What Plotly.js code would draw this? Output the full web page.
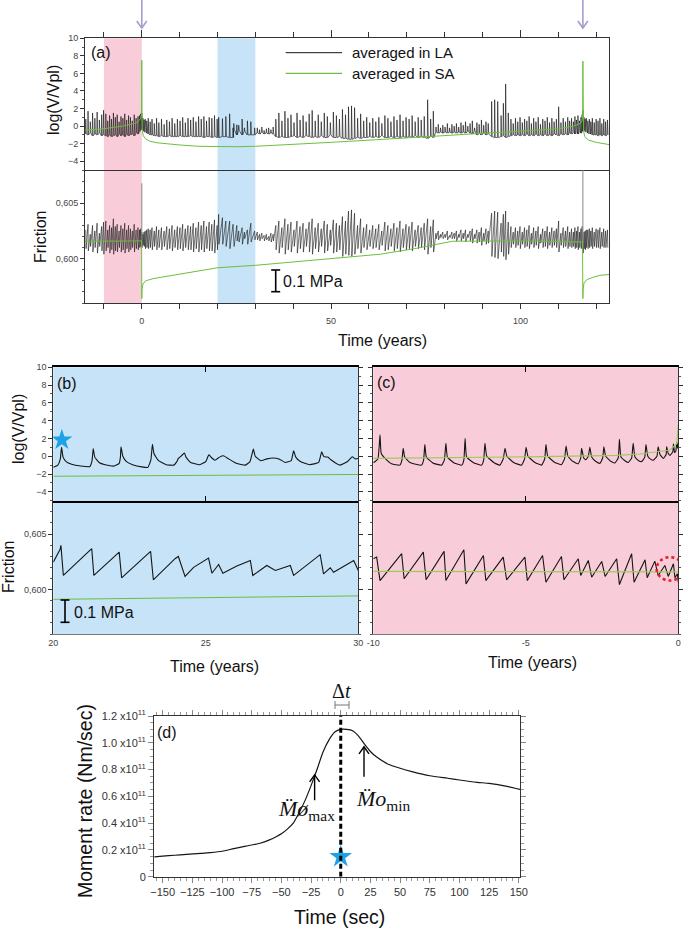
<!DOCTYPE html>
<html><head><meta charset="utf-8">
<script src="https://cdn.plot.ly/plotly-3.0.1.min.js"></script>
<style>body{margin:0;background:#fff}#chart{width:685px;height:928px}</style>
</head><body><div id="chart"></div>
<script>
// ---------------- DATA ----------------
const eventT = [0, 116.5];
// (a) averaged in LA : spike times, log(V/Vpl) peaks & troughs, friction before/after drop
const laT = [
 -14.8,-14.2,-13.6,-13.0,-12.4,-11.8,-11.2,-10.6,-10.1,
 -9.5,-9.0,-8.5,-8.0,-7.5,-7.0,-6.5,-6.0,-5.5,-5.0,-4.5,-4.0,-3.5,-3.0,-2.5,-2.0,-1.5,-1.0,-0.6,-0.3,
 0.0,0.3,0.6,0.9,1.3,1.7,2.2,2.7,3.3,3.9,4.5,5.2,5.9,6.6,7.3,8.0,8.7,9.4,10.1,10.8,11.5,12.2,12.9,13.6,14.3,15.0,15.7,16.4,17.1,17.8,18.5,19.2,19.9,
 20.3,21.3,22.2,23.2,24.1,24.3,25.1,25.6,26.5,27.1,27.9,28.8,29.8,
 30.5,31.1,31.7,32.3,32.9,33.5,34.1,34.7,
 35.4,36.2,37.0,37.8,38.6,39.4,40.2,41.0,41.8,42.6,43.4,44.2,45.0,45.8,46.6,47.4,48.2,49.0,49.8,50.6,51.4,52.2,53.0,53.8,
 54.6,55.4,56.2,57.0,57.8,58.6,59.4,60.2,61.0,61.8,62.6,63.4,64.2,65.0,65.8,66.6,67.4,68.2,69.0,69.8,70.6,71.4,72.2,73.0,73.8,74.6,75.5,76.3,77.0,
 77.7,78.3,78.9,79.5,80.1,80.7,81.3,81.9,82.5,83.1,83.7,84.3,84.9,85.5,86.1,86.7,87.3,87.9,88.5,89.1,89.7,90.3,90.9,91.5,
 92.4,93.2,94.0,94.9,95.5,96.1,96.8,
 97.5,98.1,98.7,99.3,99.9,100.5,101.1,101.7,102.3,102.9,103.5,104.1,104.7,105.3,105.9,106.5,107.1,107.7,108.3,108.9,109.5,110.1,110.7,111.3,111.9,112.5,113.0,113.5,114.0,114.4,114.8,115.2,115.6,116.0,116.3,
 116.5,116.8,117.1,117.4,117.8,118.2,118.6,119.0,119.5,120.0,120.5,121.0,121.5,122.0,122.5,123.0
];
const laPk = [
 0.8,1.7,0.5,1.5,0.9,1.6,0.7,1.3,1.8,
 1.4,0.6,1.2,0.8,1.5,1.0,1.3,0.5,1.1,0.9,1.4,0.7,1.2,1.0,0.6,1.3,0.9,1.1,1.2,1.4,
 1.5,0.9,0.7,0.8,0.6,0.9,0.5,0.8,0.3,0.9,0.4,0.8,0.2,0.7,0.5,0.9,0.3,0.8,0.6,1.0,0.4,0.9,0.7,1.0,0.5,1.1,0.8,1.1,0.6,1.0,0.9,1.2,0.8,
 1.0,0.85,1.1,1.4,-0.2,0.3,0.15,0.1,0.8,-0.2,0.6,0.5,-0.2,
 -0.2,-0.4,-0.1,-0.5,-0.3,-0.2,-0.4,-0.1,
 0.8,1.5,0.6,1.7,0.9,1.3,0.4,1.5,0.7,1.2,0.5,1.4,1.8,0.6,1.3,0.5,1.5,1.1,0.4,1.6,1.2,0.8,1.9,1.3,
 2.2,2.3,2.1,0.9,1.4,0.6,1.0,0.4,0.9,0.5,1.0,0.3,1.2,0.9,0.5,1.1,0.7,1.3,0.6,1.0,0.8,1.2,0.5,1.0,0.7,1.1,3.0,0.8,1.7,
 -0.1,0.2,-0.2,0.1,-0.1,0.3,-0.2,0.2,0.0,0.3,-0.1,0.4,0.1,0.5,0.0,0.3,0.6,-0.2,0.4,0.2,0.7,0.1,0.5,0.3,
 2.8,3.0,2.8,1.2,2.6,4.8,1.5,
 0.8,0.3,0.9,0.5,1.0,0.4,0.8,0.6,1.1,0.3,0.9,0.5,1.0,0.2,0.8,0.6,1.0,0.4,0.9,0.5,0.8,2.2,0.4,0.9,0.5,1.0,0.6,0.9,0.5,1.1,0.7,1.2,0.6,1.0,1.3,
 1.8,1.0,0.8,0.9,0.6,0.8,0.5,0.9,0.4,0.8,0.6,0.9,0.3,0.8,0.5,0.7
];
const laLo = [
 -0.9,-1.0,-0.8,-1.1,-0.9,-1.0,-0.8,-1.1,-1.0,
 -1.1,-1.2,-1.0,-1.2,-1.1,-1.0,-1.2,-0.9,-1.1,-1.0,-1.2,-0.9,-1.1,-1.0,-0.9,-1.1,-0.8,-0.9,-0.6,-0.4,
 -0.3,-0.5,-0.6,-0.7,-0.8,-0.9,-1.0,-1.0,-1.1,-1.1,-1.2,-1.1,-1.2,-1.2,-1.1,-1.2,-1.2,-1.2,-1.1,-1.2,-1.2,-1.2,-1.1,-1.2,-1.2,-1.2,-1.2,-1.3,-1.2,-1.2,-1.3,-1.2,-1.3,
 -1.3,-1.2,-1.2,-1.3,-1.3,-0.4,-1.0,-0.5,-1.0,-0.6,-1.0,-1.0,-1.0,
 -0.8,-0.9,-0.7,-0.9,-0.8,-0.9,-0.8,-0.9,
 -1.2,-1.3,-1.2,-1.3,-1.3,-1.2,-1.1,-1.3,-1.2,-1.3,-1.1,-1.2,-1.3,-1.2,-1.3,-1.1,-1.3,-1.3,-1.0,-1.3,-1.3,-1.2,-1.4,-1.4,
 -1.5,-1.5,-1.4,-1.3,-1.4,-1.3,-1.3,-1.2,-1.3,-1.2,-1.3,-1.1,-1.3,-1.3,-1.2,-1.3,-1.2,-1.3,-1.2,-1.3,-1.2,-1.3,-1.1,-1.3,-1.2,-1.3,-1.4,-1.2,-1.3,
 -0.7,-0.8,-0.7,-0.8,-0.7,-0.8,-0.7,-0.8,-0.7,-0.8,-0.7,-0.8,-0.7,-0.8,-0.6,-0.8,-0.9,-0.6,-1.0,-0.9,-1.0,-0.8,-1.0,-0.9,
 -1.2,-1.3,-1.3,-1.2,-1.1,-1.3,-1.2,
 -1.1,-1.0,-1.1,-1.0,-1.1,-1.0,-1.1,-0.9,-1.1,-1.0,-1.1,-0.9,-1.1,-1.0,-1.1,-0.9,-1.1,-1.0,-1.1,-0.9,-1.0,-1.1,-0.9,-1.0,-0.9,-1.0,-0.8,-0.9,-0.8,-0.9,-0.8,-0.9,-0.7,-0.8,-0.6,
 -0.5,-0.4,-0.6,-0.7,-0.8,-0.9,-0.9,-1.0,-1.0,-1.0,-1.1,-1.0,-1.1,-1.0,-1.1,-1.0
];
const laFh = [
 0.6026,0.6031,0.6022,0.6030,0.6025,0.6032,0.6023,0.6029,0.6033,
 0.6034,0.6026,0.6030,0.6028,0.6036,0.6029,0.6031,0.6025,0.6030,0.6027,0.6032,0.6026,0.6030,0.6027,0.6025,0.6031,0.6026,0.6028,0.6026,0.6027,
 0.6024,0.6022,0.6024,0.6025,0.6026,0.6027,0.6026,0.6028,0.6025,0.6029,0.6026,0.6028,0.6025,0.6029,0.6027,0.6030,0.6026,0.6029,0.6028,0.6031,0.6027,0.6030,0.6029,0.6032,0.6028,0.6033,0.6030,0.6034,0.6029,0.6033,0.6031,0.6035,0.6030,
 0.6040,0.6037,0.6034,0.6034,0.6031,0.6030,0.6030,0.6025,0.6028,0.6024,0.6026,0.6032,0.6025,
 0.6024,0.6022,0.6023,0.6021,0.6022,0.6020,0.6023,0.6022,
 0.6030,0.6034,0.6028,0.6036,0.6031,0.6033,0.6026,0.6034,0.6029,0.6032,0.6027,0.6033,0.6036,0.6028,0.6032,0.6027,0.6034,0.6031,0.6026,0.6035,0.6032,0.6030,0.6038,0.6034,
 0.6043,0.6044,0.6041,0.6030,0.6036,0.6028,0.6031,0.6026,0.6030,0.6027,0.6031,0.6025,0.6033,0.6030,0.6027,0.6032,0.6028,0.6034,0.6027,0.6031,0.6029,0.6033,0.6026,0.6030,0.6028,0.6032,0.6036,0.6029,0.6035,
 0.6023,0.6025,0.6022,0.6024,0.6022,0.6025,0.6021,0.6024,0.6023,0.6025,0.6022,0.6026,0.6023,0.6026,0.6022,0.6025,0.6027,0.6022,0.6026,0.6024,0.6028,0.6023,0.6027,0.6025,
 0.6041,0.6043,0.6042,0.6032,0.6040,0.6043,0.6033,
 0.6029,0.6024,0.6028,0.6025,0.6029,0.6024,0.6028,0.6026,0.6030,0.6023,0.6028,0.6025,0.6029,0.6022,0.6027,0.6025,0.6029,0.6024,0.6028,0.6025,0.6027,0.6034,0.6023,0.6028,0.6025,0.6029,0.6024,0.6027,0.6024,0.6028,0.6025,0.6029,0.6024,0.6027,0.6029,
 0.6026,0.6024,0.6025,0.6026,0.6026,0.6027,0.6025,0.6028,0.6024,0.6027,0.6026,0.6028,0.6024,0.6027,0.6025,0.6026
];
const laFl = [
 0.6009,0.6007,0.6011,0.6006,0.6010,0.6005,0.6011,0.6007,0.6004,
 0.6007,0.6010,0.6005,0.6008,0.6004,0.6007,0.6006,0.6010,0.6006,0.6008,0.6005,0.6009,0.6006,0.6008,0.6010,0.6006,0.6009,0.6008,0.6010,0.6011,
 0.6010,0.6012,0.6011,0.6009,0.6010,0.6009,0.6010,0.6008,0.6011,0.6008,0.6010,0.6008,0.6011,0.6008,0.6009,0.6007,0.6010,0.6008,0.6009,0.6007,0.6010,0.6008,0.6008,0.6006,0.6009,0.6006,0.6008,0.6006,0.6009,0.6007,0.6007,0.6005,0.6008,
 0.6013,0.6013,0.6011,0.6009,0.6012,0.6011,0.6016,0.6015,0.6013,0.6018,0.6013,0.6015,0.6017,
 0.6017,0.6016,0.6018,0.6016,0.6017,0.6016,0.6015,0.6016,
 0.6008,0.6005,0.6010,0.6004,0.6008,0.6006,0.6011,0.6005,0.6009,0.6006,0.6011,0.6006,0.6004,0.6009,0.6006,0.6011,0.6005,0.6007,0.6012,0.6005,0.6006,0.6008,0.6002,0.6004,
 0.6003,0.6002,0.6004,0.6009,0.6005,0.6010,0.6008,0.6011,0.6009,0.6010,0.6008,0.6012,0.6007,0.6008,0.6011,0.6007,0.6009,0.6006,0.6010,0.6008,0.6009,0.6007,0.6011,0.6009,0.6010,0.6008,0.6004,0.6010,0.6006,
 0.6018,0.6017,0.6019,0.6018,0.6019,0.6017,0.6019,0.6018,0.6018,0.6016,0.6019,0.6016,0.6018,0.6015,0.6019,0.6016,0.6014,0.6018,0.6014,0.6015,0.6012,0.6016,0.6013,0.6014,
 0.6002,0.6001,0.6000,0.6006,0.6002,0.5999,0.6004,
 0.6010,0.6013,0.6010,0.6012,0.6009,0.6013,0.6010,0.6011,0.6009,0.6013,0.6010,0.6012,0.6009,0.6014,0.6010,0.6011,0.6009,0.6012,0.6010,0.6012,0.6010,0.6006,0.6012,0.6010,0.6011,0.6009,0.6011,0.6010,0.6011,0.6009,0.6010,0.6008,0.6010,0.6009,0.6008,
 0.6005,0.6009,0.6008,0.6010,0.6009,0.6010,0.6011,0.6009,0.6011,0.6010,0.6010,0.6009,0.6011,0.6010,0.6010,0.6010
];
// friction spikes at the two big events (LA)
const laSpikeTop = [0.6068, 0.6095];
const laSpikeBase = [0.6012, 0.6010];
// (a) averaged in SA
const saT = [-15,-10,-5,-2,-1,-0.3,-0.05,0,0.05,0.15,0.4,1,2,4,7,10,15,20,25,30,40,50,60,70,80,90,100,110,114,115.8,116.3,116.45,116.5,116.55,116.65,117,118,120,123.4];
const saV = [-0.45,-0.3,0.0,0.3,0.5,0.9,1.4,7.5,1.0,-0.6,-1.1,-1.45,-1.7,-1.9,-2.05,-2.15,-2.3,-2.35,-2.35,-2.3,-2.1,-1.85,-1.6,-1.35,-1.1,-0.85,-0.6,-0.3,0.0,0.3,0.6,1.3,7.4,1.0,-0.5,-1.2,-1.6,-1.85,-2.1];
const sfT = [-15,-5,-1,-0.05,0,0.05,0.3,1,3,8,13,20,30,40,55,63,72,82,100,116.4,116.5,116.55,116.8,117.5,119,121,123.4];
const sfV = [0.60157,0.60157,0.6016,0.6016,0.5964,0.5972,0.5977,0.5980,0.5982,0.5985,0.5988,0.59918,0.5994,0.5997,0.60015,0.6004,0.6009,0.60157,0.6016,0.6015,0.5964,0.5972,0.5978,0.5981,0.5983,0.5985,0.59857];

// (b) 20-30 years
const bT = [20.0,20.15,20.23,20.27,20.32,20.42,20.6,20.9,21.2,21.27,21.31,21.36,21.5,21.7,22.0,22.16,22.2,22.22,22.28,22.4,22.6,22.9,23.1,23.2,23.25,23.3,23.45,23.7,23.95,24.05,24.1,24.2,24.3,24.35,24.5,24.8,25.0,25.1,25.2,25.3,25.45,25.58,25.75,26.0,26.3,26.45,26.56,26.62,26.8,27.0,27.2,27.4,27.6,27.8,27.88,27.95,28.1,28.4,28.7,28.8,28.87,29.0,29.1,29.4,29.65,29.8,29.9,30.0];
const bV = [-1.25,-1.0,-0.3,1.0,-0.1,-0.6,-0.9,-1.1,-1.15,-0.5,0.85,-0.1,-0.7,-0.95,-1.1,-0.8,-0.1,1.05,0.0,-0.6,-0.95,-1.2,-1.25,-0.4,1.35,0.3,-0.5,-0.95,-1.0,-0.6,-0.25,0.05,0.35,-0.1,-0.7,-0.95,-0.6,0.15,-0.2,-0.45,-0.1,0.05,-0.3,-0.8,-1.0,-0.6,0.8,0.0,-0.5,-0.3,-0.2,-0.3,-0.7,-0.5,0.6,-0.1,-0.6,-0.95,-0.7,0.5,-0.05,-0.1,-0.4,-1.0,-0.6,-0.05,-0.3,-0.25];
const bFT = [20.0,20.22,20.25,20.33,21.26,21.33,22.16,22.24,23.19,23.28,24.0,24.1,24.32,24.6,25.09,25.2,25.42,25.56,26.0,26.46,26.54,27.0,27.28,27.77,27.88,28.75,28.86,29.08,29.19,29.55,29.85,30.0];
const bFV = [0.60247,0.6036,0.60398,0.60127,0.60368,0.60127,0.60337,0.60106,0.60344,0.60088,0.6028,0.60298,0.60118,0.6020,0.60283,0.60147,0.60226,0.60147,0.6021,0.60262,0.60127,0.60217,0.60172,0.60217,0.60127,0.60314,0.60142,0.60196,0.60156,0.60217,0.60262,0.60172];
const bST = [20, 30], bSV = [-2.25, -2.05];
const bSFT = [20, 30], bSFV = [0.59912, 0.59943];
const bStar = {t: 20.28, v: 1.84};

// (c) -10-0 years
const cT = [-10.0,-9.85,-9.78,-9.74,-9.6,-9.4,-9.13,-9.06,-9.02,-8.97,-8.8,-8.42,-8.35,-8.31,-8.26,-8.05,-7.76,-7.67,-7.62,-7.57,-7.35,-7.1,-7.03,-6.99,-6.94,-6.7,-6.45,-6.38,-6.34,-6.28,-6.05,-5.85,-5.74,-5.68,-5.62,-5.4,-5.14,-5.04,-4.99,-4.93,-4.7,-4.48,-4.38,-4.34,-4.28,-4.05,-3.83,-3.73,-3.68,-3.62,-3.45,-3.28,-3.2,-3.17,-3.1,-3.03,-2.95,-2.9,-2.84,-2.7,-2.57,-2.48,-2.44,-2.38,-2.2,-2.08,-1.97,-1.93,-1.88,-1.75,-1.64,-1.53,-1.48,-1.42,-1.3,-1.2,-1.1,-1.06,-1.0,-0.9,-0.82,-0.7,-0.66,-0.6,-0.49,-0.4,-0.38,-0.33,-0.27,-0.18,-0.16,-0.12,-0.08,-0.05,-0.02,0.0];
const cV = [-0.73,-0.3,2.4,0.3,-0.3,-0.85,-1.0,-0.4,0.9,-0.1,-0.7,-1.0,-0.4,1.3,-0.1,-0.75,-1.0,-0.4,1.45,-0.1,-0.75,-1.0,-0.4,2.0,-0.1,-0.75,-1.0,-0.4,1.45,0.0,-0.7,-1.0,-0.3,0.9,0.0,-0.7,-1.0,-0.3,1.0,0.0,-0.7,-1.0,-0.3,1.3,0.0,-0.7,-0.95,-0.3,1.15,0.0,-0.6,-0.85,-0.2,0.9,-0.2,-0.4,0.0,1.0,-0.1,-0.6,-0.8,-0.2,1.05,0.0,-0.6,-0.75,-0.2,1.9,-0.1,-0.5,-0.7,-0.2,1.45,-0.1,-0.5,-0.6,-0.1,1.3,0.0,-0.35,-0.45,0.0,1.05,0.2,-0.25,0.2,1.1,0.3,0.1,0.5,1.4,0.4,0.6,1.5,0.9,1.6];
const cFT = [-10.0,-9.89,-9.78,-9.07,-8.99,-8.36,-8.27,-7.68,-7.62,-7.03,-6.96,-6.39,-6.31,-5.74,-5.63,-5.03,-4.95,-4.45,-4.34,-3.83,-3.75,-3.28,-3.20,-2.95,-2.84,-2.51,-2.40,-2.02,-1.93,-1.53,-1.45,-1.09,-1.02,-0.77,-0.66,-0.44,-0.33,-0.16,-0.11,-0.03,0.0];
const cFV = [0.60277,0.60292,0.60081,0.60323,0.60097,0.60337,0.60088,0.60344,0.60081,0.60359,0.60051,0.60307,0.60081,0.60292,0.60088,0.60292,0.60081,0.60307,0.60066,0.60298,0.60088,0.60277,0.60127,0.60262,0.60111,0.60253,0.60118,0.60277,0.60045,0.60323,0.60066,0.60268,0.60106,0.60256,0.60127,0.60217,0.60118,0.60232,0.60106,0.60142,0.60066];
const cST = [-10,-7,-4.5,-2,-1.26,-0.27,-0.05,0], cSV = [-0.23,-0.15,-0.05,0.1,0.25,0.7,1.4,3.6];
const cSFT = [-10, 0], cSFV = [0.60163, 0.60160];

// (d) moment rate (x10^11 Nm/sec)
const momT = [-157,-150,-140,-130,-118,-110,-100,-90,-80,-68,-60,-54,-50,-45,-40,-35,-30,-25,-20,-15,-10,-5,0,5,10,15,20,25,30,40,50,60,75,90,100,115,125,140,151];
const momV = [0.148,0.154,0.160,0.166,0.174,0.180,0.190,0.21,0.228,0.25,0.275,0.30,0.32,0.355,0.40,0.48,0.57,0.68,0.80,0.93,1.02,1.08,1.10,1.10,1.09,1.05,0.99,0.935,0.895,0.84,0.81,0.785,0.754,0.735,0.722,0.705,0.697,0.675,0.652];
const dStar = {t: 0, v: 0.149};
const dArrows = [{t: -22, from: 0.57, to: 0.76}, {t: 19.6, from: 0.747, to: 0.97}];
const dTicks = [0, 0.2, 0.4, 0.6, 0.8, 1.0, 1.2];
const dTickText = ['0','0.2 x10<sup>11</sup>','0.4 x10<sup>11</sup>','0.6 x10<sup>11</sup>','0.8 x10<sup>11</sup>','1.0 x10<sup>11</sup>','1.2 x10<sup>11</sup>'];

// ---------------- BUILD ----------------
const W = 685, H = 928;
const px = x => x / W, py = y => 1 - y / H;
const BLACK = '#151515', GREEN = '#6cbf3c', PINK = '#f8cdd9', BLUE = '#c6e3f7', LAV = '#a69dcf', STAR = '#1ba3e6';
const SANS = 'Liberation Sans, Arial, sans-serif', SERIF = 'Liberation Serif, Times New Roman, serif';

function spikePath(t, pk, lo) {
  const x = [], y = [];
  for (let i = 0; i < t.length; i++) {
    x.push(t[i] - 0.08, t[i], t[i] + 0.15);
    y.push(lo[i], pk[i], lo[i]);
  }
  return {x, y};
}
function sawPath(t, hi, lo) {
  const x = [], y = [];
  for (let i = 0; i < t.length; i++) { x.push(t[i], t[i] + 0.08); y.push(hi[i], lo[i]); }
  return {x, y};
}
const aV = spikePath(laT, laPk, laLo);
const aF = sawPath(laT, laFh, laFl);
const spx = [], spy = [];
eventT.forEach((t, i) => { spx.push(t, t, null); spy.push(laSpikeBase[i], laSpikeTop[i], null); });

const traces = [
  {x: aV.x, y: aV.y, xaxis: 'x', yaxis: 'y', mode: 'lines', line: {color: BLACK, width: 0.65}},
  {x: saT, y: saV, xaxis: 'x', yaxis: 'y', mode: 'lines', line: {color: GREEN, width: 1}},
  {x: aF.x, y: aF.y, xaxis: 'x2', yaxis: 'y2', mode: 'lines', line: {color: BLACK, width: 0.6}},
  {x: spx, y: spy, xaxis: 'x2', yaxis: 'y2', mode: 'lines', line: {color: '#888', width: 1}},
  {x: sfT, y: sfV, xaxis: 'x2', yaxis: 'y2', mode: 'lines', line: {color: GREEN, width: 1}},
  {x: bT, y: bV, xaxis: 'x3', yaxis: 'y3', mode: 'lines', line: {color: BLACK, width: 1.1, shape: 'spline', smoothing: 0.4}},
  {x: bST, y: bSV, xaxis: 'x3', yaxis: 'y3', mode: 'lines', line: {color: GREEN, width: 1}},
  {x: [bStar.t], y: [bStar.v], xaxis: 'x3', yaxis: 'y3', mode: 'markers', marker: {symbol: 'star', size: 16, color: STAR}},
  {x: bFT, y: bFV, xaxis: 'x4', yaxis: 'y4', mode: 'lines', line: {color: BLACK, width: 1.1}},
  {x: bSFT, y: bSFV, xaxis: 'x4', yaxis: 'y4', mode: 'lines', line: {color: GREEN, width: 1}},
  {x: cT, y: cV, xaxis: 'x5', yaxis: 'y5', mode: 'lines', line: {color: BLACK, width: 1.1, shape: 'spline', smoothing: 0.4}},
  {x: cST, y: cSV, xaxis: 'x5', yaxis: 'y5', mode: 'lines', line: {color: '#9acb5a', width: 1.2}},
  {x: cFT, y: cFV, xaxis: 'x6', yaxis: 'y6', mode: 'lines', line: {color: BLACK, width: 1.1}},
  {x: cSFT, y: cSFV, xaxis: 'x6', yaxis: 'y6', mode: 'lines', line: {color: '#9acb5a', width: 1.2}},
  {x: momT, y: momV, xaxis: 'x7', yaxis: 'y7', mode: 'lines', line: {color: BLACK, width: 1.2, shape: 'spline', smoothing: 0.6}},
  {x: [dStar.t], y: [dStar.v], xaxis: 'x7', yaxis: 'y7', mode: 'markers', marker: {symbol: 'star', size: 17, color: STAR}}
];

const dom = {
  xa: [px(85), px(609)], yaT: [py(170), py(38.3)], yaB: [py(303), py(170)],
  xb: [px(53.3), px(358.3)], xc: [px(373.3), px(678.3)],
  ybT: [py(500.7), py(367.3)], ybB: [py(634), py(500.7)],
  xd: [px(154), px(520)], yd: [py(876.7), py(716)]
};
const tf = {family: SANS, size: 9, color: '#444'};
const base = {showgrid: false, zeroline: false, showline: true, linecolor: '#333', linewidth: 1, tickfont: tf, tickcolor: '#333'};
const yV = Object.assign({}, base, {range: [-5, 10], tickvals: [-4,-2,0,2,4,6,8,10], ticks: 'outside', ticklen: 4,
  minor: {dtick: 1, tick0: 0, ticks: 'outside', ticklen: 2, tickcolor: '#555'}});
const yF = Object.assign({}, base, {range: [0.596, 0.608], tickvals: [0.600, 0.605], ticktext: ['0,600', '0,605'], ticks: 'outside', ticklen: 4,
  minor: {dtick: 0.001, tick0: 0.596, ticks: 'outside', ticklen: 2, tickcolor: '#555'}});
const dtf = {family: SANS, size: 11, color: '#333'};

const layout = {
  width: W, height: H, margin: {l: 0, r: 0, t: 0, b: 0, pad: 0},
  paper_bgcolor: '#fff', plot_bgcolor: 'rgba(0,0,0,0)', showlegend: false,
  font: {family: SANS},
  xaxis: Object.assign({}, base, {domain: dom.xa, anchor: 'y', side: 'top', range: [-15, 123.4], tick0: 0, dtick: 50,
    ticks: 'outside', ticklen: 7, showticklabels: false, mirror: true,
    minor: {dtick: 10, tick0: 0, ticks: 'outside', ticklen: 5, tickcolor: '#333'}}),
  yaxis: Object.assign({}, yV, {domain: dom.yaT, anchor: 'x', mirror: true}),
  xaxis2: Object.assign({}, base, {domain: dom.xa, anchor: 'y2', range: [-15, 123.4], tick0: 0, dtick: 50,
    ticks: 'outside', ticklen: 5, ticklabelstandoff: 4,
    minor: {dtick: 10, tick0: 0, ticks: 'outside', ticklen: 5, tickcolor: '#333'}}),
  yaxis2: Object.assign({}, yF, {domain: dom.yaB, anchor: 'x2', mirror: true}),

  xaxis3: Object.assign({}, base, {domain: dom.xb, anchor: 'y3', side: 'top', range: [20, 30], tickvals: [25], ticks: 'inside', ticklen: 5,
    showticklabels: false, linecolor: '#000', linewidth: 2, mirror: 'ticks', tickcolor: '#000'}),
  yaxis3: Object.assign({}, yV, {domain: dom.ybT, anchor: 'x3', mirror: 'allticks'}),
  xaxis4: Object.assign({}, base, {domain: dom.xb, anchor: 'y4', range: [20, 30], tickvals: [20, 25, 30], ticks: '', linecolor: '#777'}),
  yaxis4: Object.assign({}, yF, {domain: dom.ybB, anchor: 'x4', mirror: 'allticks'}),

  xaxis5: Object.assign({}, base, {domain: dom.xc, anchor: 'y5', side: 'top', range: [-10, 0], tickvals: [-5], ticks: 'inside', ticklen: 5,
    showticklabels: false, linecolor: '#000', linewidth: 2, mirror: 'ticks', tickcolor: '#000'}),
  yaxis5: Object.assign({}, yV, {domain: dom.ybT, anchor: 'x5', mirror: 'allticks', showticklabels: false}),
  xaxis6: Object.assign({}, base, {domain: dom.xc, anchor: 'y6', range: [-10, 0], tickvals: [-10, -5, 0], ticktext: ['-10', '-5', '0'], ticks: '', linecolor: '#777'}),
  yaxis6: Object.assign({}, yF, {domain: dom.ybB, anchor: 'x6', mirror: 'allticks', showticklabels: false}),

  xaxis7: Object.assign({}, base, {domain: dom.xd, anchor: 'y7', range: [-157.3, 151], tickvals: [-150,-125,-100,-75,-50,-25,0,25,50,75,100,125,150],
    ticks: 'outside', ticklen: 5, tickcolor: '#888', mirror: 'allticks', tickfont: dtf,
    minor: {dtick: 5, tick0: 0, ticks: 'outside', ticklen: 3, tickcolor: '#999'}}),
  yaxis7: Object.assign({}, base, {domain: dom.yd, anchor: 'x7', range: [0, 1.2], tickvals: dTicks, ticktext: dTickText,
    ticks: 'outside', ticklen: 5, tickcolor: '#888', mirror: 'allticks', tickfont: dtf,
    minor: {dtick: 0.05, tick0: 0, ticks: 'outside', ticklen: 3, tickcolor: '#999'}}),
  shapes: [], annotations: []
};

const S = layout.shapes, A = layout.annotations;
// (a) bands
S.push({type: 'rect', xref: 'x', yref: 'paper', x0: -10, x1: 0, y0: dom.yaB[0], y1: dom.yaT[1], fillcolor: PINK, line: {width: 0}, layer: 'below'});
S.push({type: 'rect', xref: 'x', yref: 'paper', x0: 20, x1: 30, y0: dom.yaB[0], y1: dom.yaT[1], fillcolor: BLUE, line: {width: 0}, layer: 'below'});
// (b)/(c) backgrounds
S.push({type: 'rect', xref: 'paper', yref: 'paper', x0: dom.xb[0], x1: dom.xb[1], y0: dom.ybB[0], y1: dom.ybT[1], fillcolor: BLUE, line: {width: 0}, layer: 'below'});
S.push({type: 'rect', xref: 'paper', yref: 'paper', x0: dom.xc[0], x1: dom.xc[1], y0: dom.ybB[0], y1: dom.ybT[1], fillcolor: PINK, line: {width: 0}, layer: 'below'});
// legend
S.push({type: 'line', xref: 'paper', yref: 'paper', x0: px(285.7), x1: px(342), y0: py(52.7), y1: py(52.7), line: {color: BLACK, width: 1}});
S.push({type: 'line', xref: 'paper', yref: 'paper', x0: px(285.7), x1: px(342), y0: py(73.3), y1: py(73.3), line: {color: GREEN, width: 1.2}});
A.push({xref: 'paper', yref: 'paper', x: px(350), y: py(52.7), xanchor: 'left', yanchor: 'middle', showarrow: false, text: 'averaged in LA', font: {family: SANS, size: 15, color: '#111'}});
A.push({xref: 'paper', yref: 'paper', x: px(350), y: py(73.3), xanchor: 'left', yanchor: 'middle', showarrow: false, text: 'averaged in SA', font: {family: SANS, size: 15, color: '#111'}});
// scale bars
function scaleBar(cx, y0, y1, tx, ty) {
  S.push({type: 'line', xref: 'paper', yref: 'paper', x0: px(cx), x1: px(cx), y0: py(y0), y1: py(y1), line: {color: '#000', width: 1.6}});
  S.push({type: 'line', xref: 'paper', yref: 'paper', x0: px(cx - 4.5), x1: px(cx + 4.5), y0: py(y0), y1: py(y0), line: {color: '#000', width: 1.6}});
  S.push({type: 'line', xref: 'paper', yref: 'paper', x0: px(cx - 4.5), x1: px(cx + 4.5), y0: py(y1), y1: py(y1), line: {color: '#000', width: 1.6}});
  A.push({xref: 'paper', yref: 'paper', x: px(tx), y: py(ty), xanchor: 'left', yanchor: 'middle', showarrow: false, text: '0.1 MPa', font: {family: SANS, size: 16, color: '#111'}});
}
scaleBar(275.7, 270, 291.7, 281, 281.5);
scaleBar(65, 600, 622.3, 72, 612);
// event arrows (lavender) drawn as shapes: shaft + chevron head (pixel-sized)
eventT.forEach(t => {
  S.push({type: 'line', xref: 'x', yref: 'paper', x0: t, x1: t, y0: py(0), y1: py(28), line: {color: LAV, width: 1.6}});
  S.push({type: 'path', xref: 'x', yref: 'paper', xsizemode: 'pixel', ysizemode: 'pixel', xanchor: t, yanchor: py(28),
    path: 'M-5,7 L0,0 L5,7', line: {color: LAV, width: 1.6}});
});
// red dotted ellipse in (c)
S.push({type: 'circle', xref: 'x6', yref: 'y6', x0: -0.71, x1: 0.16, y0: 0.60081, y1: 0.60292, line: {color: '#e3202c', width: 2.6, dash: 'dot'}});
// (d) dashed line & delta t
S.push({type: 'line', xref: 'x7', yref: 'y7', x0: 0, x1: 0, y0: 0, y1: 1.2, line: {color: '#000', width: 3, dash: '5px,3px'}});
S.push({type: 'line', xref: 'paper', yref: 'paper', x0: px(335), x1: px(349), y0: py(705), y1: py(705), line: {color: '#777', width: 1}});
S.push({type: 'line', xref: 'paper', yref: 'paper', x0: px(335), x1: px(335), y0: py(701), y1: py(709), line: {color: '#777', width: 1}});
S.push({type: 'line', xref: 'paper', yref: 'paper', x0: px(349), x1: px(349), y0: py(701), y1: py(709), line: {color: '#777', width: 1}});
A.push({xref: 'paper', yref: 'paper', x: px(341), y: py(691), xanchor: 'center', yanchor: 'middle', showarrow: false, text: 'Δ<i>t</i>', font: {family: SERIF, size: 20, color: '#111'}});
dArrows.forEach(a => {
  S.push({type: 'line', xref: 'x7', yref: 'y7', x0: a.t, x1: a.t, y0: a.from, y1: a.to, line: {color: '#000', width: 1.4}});
  S.push({type: 'path', xref: 'x7', yref: 'y7', xsizemode: 'pixel', ysizemode: 'pixel', xanchor: a.t, yanchor: a.to,
    path: 'M-5,-7 L0,0 L5,-7', line: {color: '#000', width: 1.4}});
});
A.push({xref: 'x7', yref: 'y7', x: -28.8, y: 0.50, xanchor: 'center', yanchor: 'middle', showarrow: false, text: '<i>M̈ø</i><sub>max</sub>', font: {family: SERIF, size: 22, color: '#111'}});
A.push({xref: 'x7', yref: 'y7', x: 36.1, y: 0.575, xanchor: 'center', yanchor: 'middle', showarrow: false, text: '<i>M̈o</i><sub>min</sub>', font: {family: SERIF, size: 22, color: '#111'}});
// panel labels & axis titles
function txt(x, y, s, size, rot) {
  A.push({xref: 'paper', yref: 'paper', x: px(x), y: py(y), xanchor: 'center', yanchor: 'middle', showarrow: false, text: s, textangle: rot || 0, font: {family: SANS, size: size, color: '#111'}});
}
txt(101, 52.5, '(a)', 16); txt(67, 383, '(b)', 16); txt(387, 382, '(c)', 16); txt(166.5, 732, '(d)', 16);
txt(54, 100, 'log(V/Vpl)', 16, -90); txt(40, 237, 'Friction', 16, -90); txt(382, 340, 'Time (years)', 16);
txt(18, 429, 'log(V/Vpl)', 16, -90); txt(8, 567, 'Friction', 16, -90);
txt(214, 666, 'Time (years)', 16); txt(532, 662, 'Time (years)', 16);
txt(85, 801, 'Moment rate (Nm/sec)', 19.5, -90); txt(339, 917, 'Time (sec)', 19.5);

Plotly.newPlot('chart', traces, layout, {staticPlot: true, displayModeBar: false});
</script></body></html>
